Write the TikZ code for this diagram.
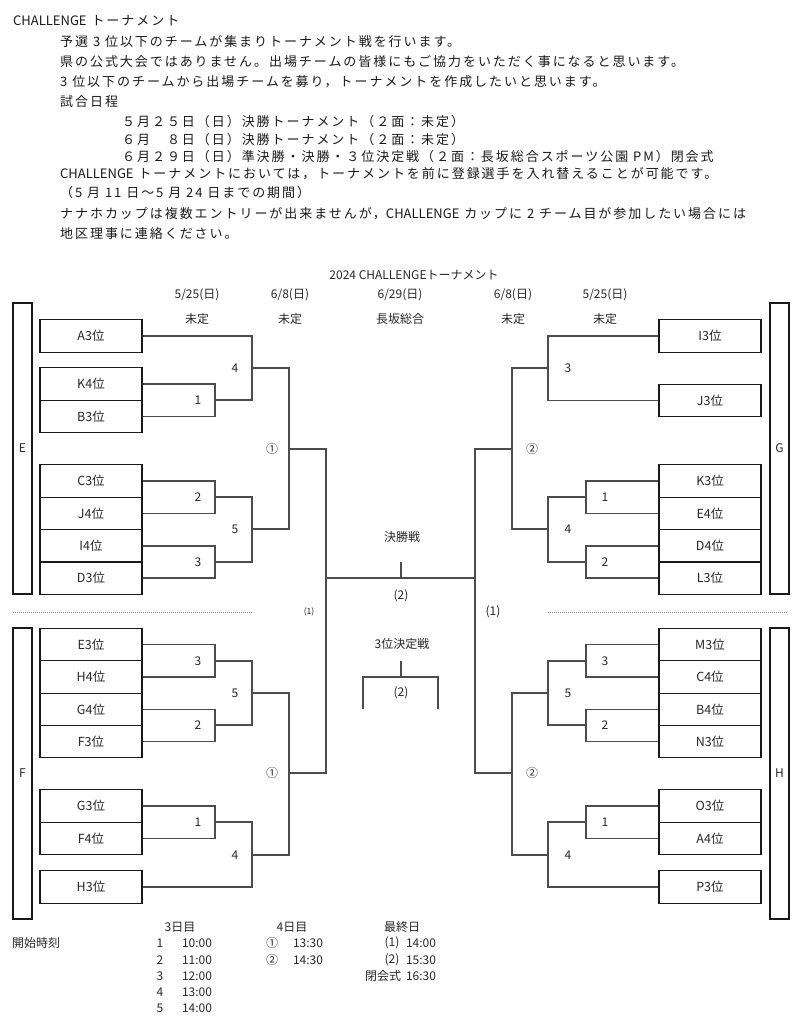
\documentclass[tikz,border=0pt]{standalone}
\usepackage{fontspec}
\setmainfont{Noto Sans CJK JP}
\newfontfamily\hdrfont{Noto Sans CJK JP}[LetterSpace=15]
\newfontfamily\latinfont{Noto Sans CJK JP}
\usetikzlibrary{positioning,calc}
\newcommand{\chal}{{\latinfont CHALLENGE}}
\tikzset{
  hdrline/.style={anchor=west, inner sep=0pt, text=black!90,
    font=\hdrfont\fontsize{13}{15}\selectfont},
  lbl/.style={inner sep=0pt, text=black!85, font=\fontsize{12}{14}\selectfont},
  small/.style={inner sep=0pt, text=black!85, font=\fontsize{8.5}{10}\selectfont},
  teambox/.style={draw=black!90, line width=1.2pt, minimum width=102pt,
    minimum height=32.5pt, inner sep=0pt, text=black!85, font=\fontsize{12.5}{14}\selectfont},
  groupbox/.style={draw=black!90, line width=1.2pt, minimum width=19pt,
    minimum height=291pt, inner sep=0pt, text=black!85, font=\fontsize{12}{14}\selectfont},
  bracket/.style={draw=black!70, line width=1.1pt},
  num/.style={inner sep=0pt, text=black!85, font=\fontsize{12}{14}\selectfont},
  sepline/.style={draw=black!45, line width=0.6pt, dash pattern=on 1pt off 1pt}
}

\begin{document}
\begin{tikzpicture}[x=1pt, y=-1pt]
\useasboundingbox (0,0) rectangle (800,1024);

% header text
\node[hdrline] (hd1) at (13,21) {\chal\ トーナメント};
\node[hdrline] (hd2) at (60,42) {予選 3 位以下のチームが集まりトーナメント戦を行います。};
\node[hdrline] (hd3) at (60,62) {県の公式大会ではありません。出場チームの皆様にもご協力をいただく事になると思います。};
\node[hdrline] (hd4) at (60,82) {3 位以下のチームから出場チームを募り，トーナメントを作成したいと思います。};
\node[hdrline] (hd5) at (60,102) {試合日程};
\node[hdrline] (hd6) at (122,122) {５月２５日（日）決勝トーナメント（２面：未定）};
\node[hdrline] (hd7) at (122,140) {６月　８日（日）決勝トーナメント（２面：未定）};
\node[hdrline] (hd8) at (122,157) {６月２９日（日）準決勝・決勝・３位決定戦（２面：長坂総合スポーツ公園 PM）閉会式};
\node[hdrline] (hd9) at (60,174) {\chal\ トーナメントにおいては，トーナメントを前に登録選手を入れ替えることが可能です。};
\node[hdrline] (hd10) at (60,193) {（5 月 11 日～5 月 24 日までの期間）};
\node[hdrline] (hd11) at (60,214) {ナナホカップは複数エントリーが出来ませんが，\chal\ カップに 2 チーム目が参加したい場合には};
\node[hdrline] (hd12) at (60,234) {地区理事に連絡ください。};

% title and dates
\node[lbl] (title) at (414,275) {2024 CHALLENGEトーナメント};
\node[lbl] (dateL1) at (197,295) {5/25(日)};
\node[lbl] (dateL2) at (290,295) {6/8(日)};
\node[lbl] (dateC) at (400,295) {6/29(日)};
\node[lbl] (dateR2) at (513,295) {6/8(日)};
\node[lbl] (dateR1) at (605,295) {5/25(日)};
\node[lbl] (siteL1) at (197,319) {未定};
\node[lbl] (siteL2) at (290,319) {未定};
\node[lbl] (siteC) at (400,319) {長坂総合};
\node[lbl] (siteR2) at (513,319) {未定};
\node[lbl] (siteR1) at (605,319) {未定};

% group boxes
\node[groupbox] (grpE) at (22.5,448.5) {E};
\node[groupbox] (grpF) at (22.5,773.5) {F};
\node[groupbox] (grpG) at (779.5,448.5) {G};
\node[groupbox] (grpH) at (779.5,773.5) {H};

% teams, left
\node[teambox] (tA3) at (91,336) {A3位};
\node[teambox] (tK4) at (91,384) {K4位};
\node[teambox] (tB3) at (91,416.5) {B3位};
\node[teambox] (tC3) at (91,481) {C3位};
\node[teambox] (tJ4) at (91,513.5) {J4位};
\node[teambox] (tI4) at (91,546) {I4位};
\node[teambox] (tD3) at (91,578) {D3位};
\node[teambox] (tE3) at (91,644.5) {E3位};
\node[teambox] (tH4) at (91,677) {H4位};
\node[teambox] (tG4) at (91,709.5) {G4位};
\node[teambox] (tF3) at (91,741.5) {F3位};
\node[teambox] (tG3) at (91,806) {G3位};
\node[teambox] (tF4) at (91,838.5) {F4位};
\node[teambox] (tH3) at (91,887) {H3位};

% teams, right
\node[teambox] (tI3) at (710,336) {I3位};
\node[teambox] (tJ3) at (710,400.5) {J3位};
\node[teambox] (tK3) at (710,481) {K3位};
\node[teambox] (tE4) at (710,513.5) {E4位};
\node[teambox] (tD4) at (710,546) {D4位};
\node[teambox] (tL3) at (710,578) {L3位};
\node[teambox] (tM3) at (710,644.5) {M3位};
\node[teambox] (tC4) at (710,677) {C4位};
\node[teambox] (tB4) at (710,709.5) {B4位};
\node[teambox] (tN3) at (710,741.5) {N3位};
\node[teambox] (tO3) at (710,806) {O3位};
\node[teambox] (tA4) at (710,838.5) {A4位};
\node[teambox] (tP3) at (710,887) {P3位};

% match points
\coordinate (e1) at (215,400);
\coordinate (e2) at (215,497);
\coordinate (e3) at (215,562);
\coordinate (e4) at (252,368);
\coordinate (e5) at (252,529);
\coordinate (eA) at (289,449);
\coordinate (f3) at (215,661);
\coordinate (f2) at (215,725);
\coordinate (f5) at (252,693);
\coordinate (f1) at (215,822);
\coordinate (f4) at (252,855);
\coordinate (fA) at (289,773);
\coordinate (g3) at (548,368);
\coordinate (g1) at (586,497);
\coordinate (g2) at (586,562);
\coordinate (g4) at (548,529);
\coordinate (gB) at (512,449);
\coordinate (h3) at (586,661);
\coordinate (h2) at (586,725);
\coordinate (h5) at (548,693);
\coordinate (h1) at (586,822);
\coordinate (h4) at (548,855);
\coordinate (hB) at (512,773);
\coordinate (finL) at (326,578);
\coordinate (finR) at (475,578);
\coordinate (finT) at (401,562);
\coordinate (finM) at (401,578);
\coordinate (thT) at (401,661);
\coordinate (thM) at (401,677);
\coordinate (thL) at (363,709);
\coordinate (thR) at (438,709);

% brackets E
\draw[bracket] (tK4.east) -| (e1) |- (tB3.east);
\draw[bracket] (tA3.east) -| (e4) |- (e1);
\draw[bracket] (tC3.east) -| (e2) |- (tJ4.east);
\draw[bracket] (tI4.east) -| (e3) |- (tD3.east);
\draw[bracket] (e2) -| (e5) |- (e3);
\draw[bracket] (e4) -| (eA) |- (e5);
% brackets F
\draw[bracket] (tE3.east) -| (f3) |- (tH4.east);
\draw[bracket] (tG4.east) -| (f2) |- (tF3.east);
\draw[bracket] (f3) -| (f5) |- (f2);
\draw[bracket] (tG3.east) -| (f1) |- (tF4.east);
\draw[bracket] (f1) -| (f4) |- (tH3.east);
\draw[bracket] (f5) -| (fA) |- (f4);
% brackets G
\draw[bracket] (tI3.west) -| (g3) |- (tJ3.west);
\draw[bracket] (tK3.west) -| (g1) |- (tE4.west);
\draw[bracket] (tD4.west) -| (g2) |- (tL3.west);
\draw[bracket] (g1) -| (g4) |- (g2);
\draw[bracket] (g3) -| (gB) |- (g4);
% brackets H
\draw[bracket] (tM3.west) -| (h3) |- (tC4.west);
\draw[bracket] (tB4.west) -| (h2) |- (tN3.west);
\draw[bracket] (h3) -| (h5) |- (h2);
\draw[bracket] (tO3.west) -| (h1) |- (tA4.west);
\draw[bracket] (h1) -| (h4) |- (tP3.west);
\draw[bracket] (h5) -| (hB) |- (h4);
% final and third place
\draw[bracket] (eA) -| (finL) |- (fA);
\draw[bracket] (gB) -| (finR) |- (hB);
\draw[bracket] (finL) -- (finR);
\draw[bracket] (finT) -- (finM);
\draw[bracket] (thT) -- (thM);
\draw[bracket] (thL) |- (thM) -| (thR);

% separators
\coordinate (sepL1) at (13,612);
\coordinate (sepL2) at (253,612);
\coordinate (sepR1) at (548,612);
\coordinate (sepR2) at (788,612);
\draw[sepline] (sepL1) -- (sepL2);
\draw[sepline] (sepR1) -- (sepR2);

% match numbers
\node[num] (ne1) at (198,400) {1};
\node[num] (ne2) at (198,497) {2};
\node[num] (ne3) at (198,562) {3};
\node[num] (ne4) at (235,368) {4};
\node[num] (ne5) at (235,529) {5};
\node[num] (neA) at (272,449) {①};
\node[num] (nf3) at (198,661) {3};
\node[num] (nf2) at (198,725) {2};
\node[num] (nf5) at (235,693) {5};
\node[num] (nf1) at (198,822) {1};
\node[num] (nf4) at (235,855) {4};
\node[num] (nfA) at (272,773) {①};
\node[num] (ng3) at (568,368) {3};
\node[num] (ng1) at (605,497) {1};
\node[num] (ng2) at (605,562) {2};
\node[num] (ng4) at (568,529) {4};
\node[num] (ngB) at (532,449) {②};
\node[num] (nh3) at (605,661) {3};
\node[num] (nh2) at (605,725) {2};
\node[num] (nh5) at (568,693) {5};
\node[num] (nh1) at (605,822) {1};
\node[num] (nh4) at (568,855) {4};
\node[num] (nhB) at (532,773) {②};

% centre labels
\node[lbl] (finLbl) at (402,537) {決勝戦};
\node[lbl] (finNum) at (401,596) {(2)};
\node[small] (semiL) at (309,612) {(1)};
\node[lbl] (semiR) at (493,612) {(1)};
\node[lbl] (thLbl) at (402,644) {3位決定戦};
\node[lbl] (thNum) at (401,693) {(2)};

% start times
\node[lbl] (day3) at (180,927) {3日目};
\node[lbl] (day4) at (292,927) {4日目};
\node[lbl] (dayF) at (402,927) {最終日};
\node[lbl, anchor=west] (start) at (12,943) {開始時刻};
\foreach \n/\t/\y in {1/10:00/943, 2/11:00/960, 3/12:00/976, 4/13:00/992, 5/14:00/1008}{
  \node[lbl] (m\n) at (160,\y) {\n};
  \node[lbl] (mt\n) at (197,\y) {\t};
}
\node[lbl] (sA) at (272,943) {①};
\node[lbl] (sAt) at (308,943) {13:30};
\node[lbl] (sB) at (272,960) {②};
\node[lbl] (sBt) at (308,960) {14:30};
\node[lbl] (fx1) at (392,943) {(1)};
\node[lbl] (fx1t) at (421,943) {14:00};
\node[lbl] (fx2) at (392,960) {(2)};
\node[lbl] (fx2t) at (421,960) {15:30};
\node[lbl] (close) at (383,976) {閉会式};
\node[lbl] (closet) at (421,976) {16:30};
\end{tikzpicture}
\end{document}
